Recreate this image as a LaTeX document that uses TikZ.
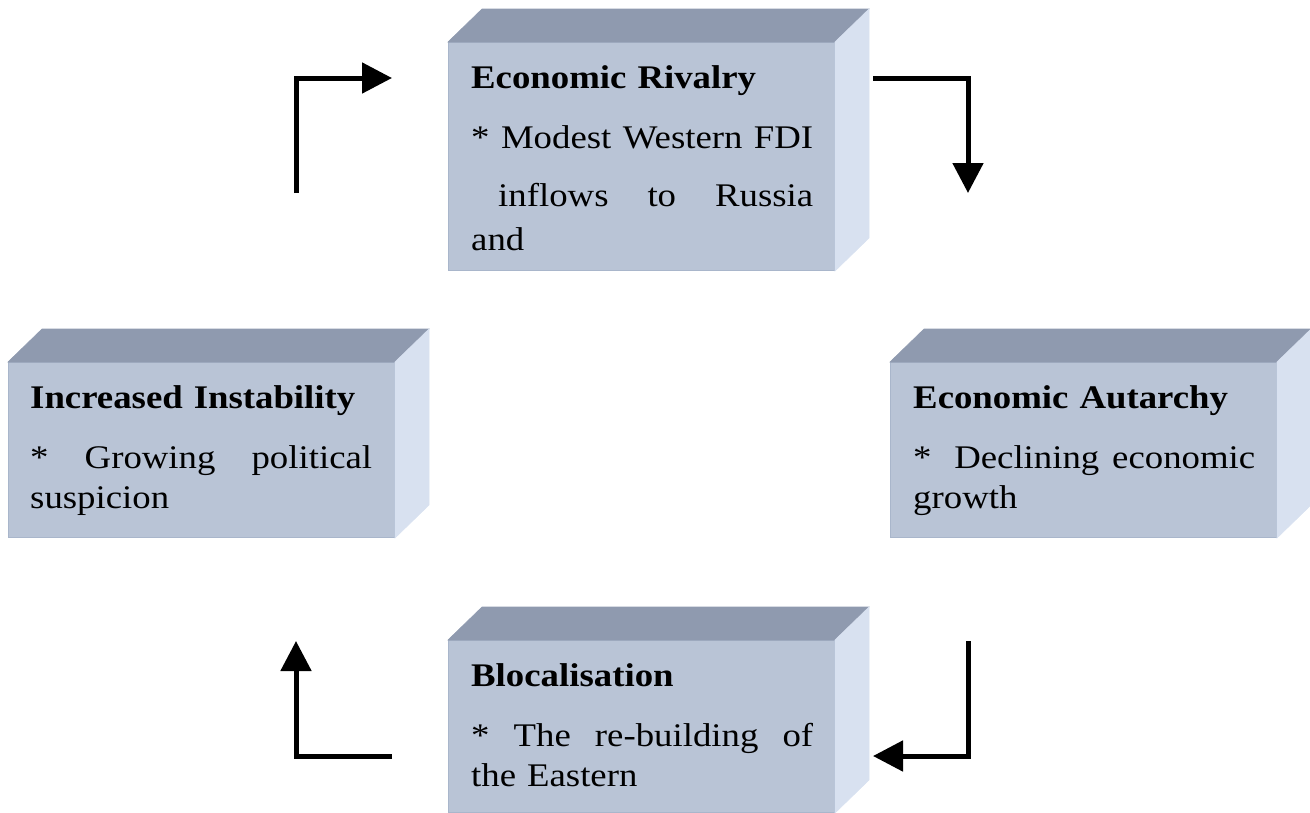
\documentclass[tikz,border=0pt]{standalone}
\usepackage{fontspec}
\setmainfont{Liberation Serif}[FakeStretch=1.115]
\usetikzlibrary{arrows.meta,positioning,calc}
\definecolor{facefront}{HTML}{B9C4D6}
\definecolor{facetop}{HTML}{8F9AAF}
\definecolor{faceside}{HTML}{D8E1F0}
\definecolor{faceedge}{HTML}{A9B6CB}
\newcommand\spreadline[1]{\makebox[342pt][s]{#1}}
\tikzset{
  front/.style={fill=facefront,draw=faceedge,line width=1pt,anchor=north west,
    inner sep=0pt,minimum width=386pt},
  topface/.style={fill=facetop,draw=facetop,line width=0.6pt},
  sideface/.style={fill=faceside,draw=faceside,line width=0.6pt},
  boxtext/.style={anchor=base west,inner sep=0pt,text width=342pt,align=left,
    font=\fontsize{33}{40}\selectfont},
  loopflow/.style={-{Triangle[length=30pt,width=30pt]},line width=5pt,black}
}
% top and side faces of a box, from the front face node
\newcommand\cuboidfaces[1]{%
  \fill[topface] (#1.north west) -- ++(34,-33) -- ($(#1.north east)+(34,-33)$)
    -- (#1.north east) -- cycle;
  \fill[sideface] (#1.north east) -- ++(34,-33) -- ($(#1.south east)+(34,-33)$)
    -- (#1.south east) -- cycle;}
\begin{document}
\begin{tikzpicture}[x=1pt,y=-1pt]
\useasboundingbox (0,0) rectangle (1310,812);
% boxes
\node[front,minimum height=228pt] (rivalry) at (448,42) {};
\node[front,minimum height=175pt] (instab) at (8,362) {};
\node[front,minimum height=175pt] (autarchy) at (890,362) {};
\node[front,minimum height=172pt] (blocal) at (448,640) {};
\foreach \b in {rivalry,instab,autarchy,blocal} {\cuboidfaces{\b}}
% texts
\node[boxtext] (rivalry-text) at (471,88)
  {\textbf{Economic Rivalry}\\[20pt]
   \spreadline{* \hfill Modest \hfill Western \hfill FDI}\\[18pt]
   \spreadline{\hspace*{27pt}inflows \hfill to \hfill Russia}\\[4pt]
   and};
\node[boxtext] (instab-text) at (30,408)
  {\textbf{Increased Instability}\\[20pt]
   \spreadline{* \hfill Growing \hfill political}\\
   suspicion};
\node[boxtext] (autarchy-text) at (913,408)
  {\textbf{Economic Autarchy}\\[20pt]
   \spreadline{* \hspace{0.3em}\hfill Declining \hfill economic}\\
   growth};
\node[boxtext] (blocal-text) at (471,686)
  {\textbf{Blocalisation}\\[20pt]
   \spreadline{* \hfill The \hfill re-building \hfill of}\\
   the Eastern};
% cycle arrows
\coordinate (tl-start) at (296,193);
\coordinate (tl-end) at (392,78);
\coordinate (tr-start) at (873,78);
\coordinate (tr-end) at (968,193);
\coordinate (br-start) at (968,641);
\coordinate (br-end) at (873,756);
\coordinate (bl-start) at (392,756);
\coordinate (bl-end) at (296,641);
\draw[loopflow] (tl-start) |- (tl-end);
\draw[loopflow] (tr-start) -| (tr-end);
\draw[loopflow] (br-start) |- (br-end);
\draw[loopflow] (bl-start) -| (bl-end);
\end{tikzpicture}
\end{document}
